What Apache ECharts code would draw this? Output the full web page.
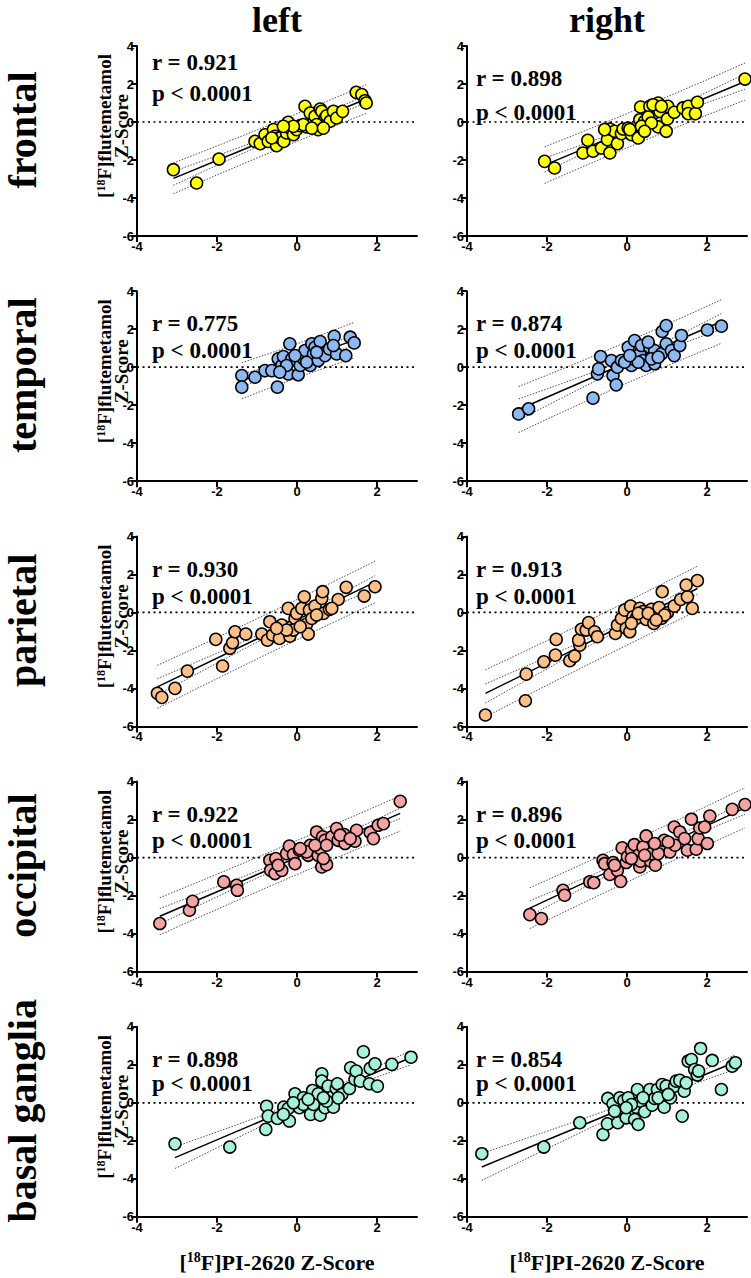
<!DOCTYPE html>
<html><head><meta charset="utf-8">
<script src="https://cdn.jsdelivr.net/npm/echarts@6/dist/echarts.min.js"></script>
<style>html,body{margin:0;padding:0;background:#fff}#c{width:751px;height:1278px}</style>
</head><body><div id="c"></div>
<script>
// ---------- data ----------
const regions = ['frontal', 'temporal', 'parietal', 'occipital', 'basal ganglia'];
const sides = ['left', 'right'];
const rValues = [['0.921', '0.898'], ['0.775', '0.874'], ['0.930', '0.913'], ['0.922', '0.896'], ['0.898', '0.854']];
const pText = 'p < 0.0001';
const xTicks = [-4, -2, 0, 2];
const yTicks = [-6, -4, -2, 0, 2, 4];
const regionColors = ['#ffff10', '#8cb9f2', '#fdc187', '#f5a3a3', '#a6f2d8'];
const showPrediction = [true, true, true, true, false];

const frontalLeft = [[-3.09,-2.51],[-2.51,-3.21],[-1.95,-1.95],[-1.05,-1.02],[-0.92,-1.14],[-0.8,-0.67],[-0.72,-1.02],[-0.59,-0.4],[-0.55,-0.75],[-0.51,-1.25],[-0.43,-0.84],[-0.33,-1.02],[-0.26,-0.58],[-0.22,-0.02],[-0.18,-0.32],[-0.09,-0.67],[-0.01,-0.4],[0.08,-0.19],[0.2,0.82],[0.24,-0.26],[0.33,0.47],[0.41,-0.05],[0.45,0.3],[0.53,-0.4],[0.58,0.68],[0.62,0.56],[0.7,0.21],[0.74,0.33],[0.83,0.04],[0.91,0.56],[0.99,0.21],[1.14,0.56],[1.48,1.56],[1.62,1.44],[1.7,1.12],[1.73,1.0],[0.16,-0.14],[-0.09,-0.23],[0.49,-0.14],[-0.63,-0.84],[-0.34,-0.23],[0.37,-0.32],[0.66,-0.32]];
const frontalRight = [[-2.06,-2.07],[-1.81,-2.42],[-1.1,-1.63],[-0.98,-0.96],[-0.85,-1.54],[-0.64,-1.37],[-0.49,-0.93],[-0.43,-1.63],[-0.43,-0.37],[-0.31,-0.49],[-0.24,-1.14],[-0.14,-0.61],[-0.1,-0.37],[0.03,-0.32],[0.11,-0.67],[0.28,-0.84],[0.32,0.12],[0.34,0.79],[0.4,-0.37],[0.44,0.04],[0.48,-0.14],[0.57,0.82],[0.53,0.26],[0.78,1.0],[0.78,-0.26],[0.82,0.56],[0.98,-0.49],[1.01,0.16],[1.02,0.82],[1.18,0.51],[1.4,0.74],[1.53,0.82],[1.53,0.44],[1.71,0.44],[1.76,1.04],[2.95,2.26],[0.07,-0.4],[0.36,-0.23],[0.61,-0.05],[0.65,0.91],[0.86,0.82],[-0.56,-0.4],[0.44,-0.49]];
const temporalLeft = [[-1.38,-0.44],[-1.38,-1.05],[-1.05,-0.53],[-0.8,-0.18],[-0.63,-0.18],[-0.49,-1.05],[-0.47,0.44],[-0.38,0.09],[-0.34,0.56],[-0.22,-0.35],[-0.18,1.23],[-0.13,0.44],[-0.01,0.35],[0.03,-0.4],[0.08,0.09],[0.16,0.44],[0.2,0.88],[0.33,0.09],[0.37,1.23],[0.41,0.7],[0.45,1.05],[0.53,0.35],[0.58,1.35],[0.7,0.61],[0.81,0.96],[0.93,1.63],[0.99,0.7],[1.22,0.61],[1.33,1.58],[1.43,1.28],[0.24,0.26],[-0.05,0.61],[-0.26,0.09],[0.49,0.79],[0.91,1.14],[-0.43,-0.26]];
const temporalRight = [[-2.71,-2.46],[-2.46,-2.19],[-0.85,-1.63],[-0.74,-0.35],[-0.71,-0.09],[-0.66,0.56],[-0.39,0.35],[-0.35,-0.44],[-0.27,-0.93],[-0.24,0.0],[-0.14,0.35],[0.03,1.05],[0.11,0.09],[0.15,0.44],[0.19,1.4],[0.32,0.7],[0.36,1.14],[0.4,0.35],[0.48,0.09],[0.57,1.05],[0.69,0.88],[0.69,0.18],[0.86,0.7],[0.88,1.88],[0.98,2.19],[0.98,1.23],[1.11,0.88],[1.18,0.61],[1.32,1.14],[1.36,1.67],[2.01,1.96],[2.36,2.16],[-0.06,0.26],[0.28,0.26],[0.61,0.44],[0.78,0.53],[0.53,1.32],[0.07,0.61]];
const parietalLeft = [[-3.49,-4.26],[-3.38,-4.47],[-3.05,-4.0],[-2.74,-3.09],[-2.03,-1.42],[-1.86,-2.82],[-1.68,-1.89],[-1.61,-1.6],[-1.55,-1.02],[-1.28,-1.14],[-0.88,-1.14],[-0.74,-1.46],[-0.68,-0.49],[-0.61,-1.19],[-0.44,-1.37],[-0.38,-0.67],[-0.22,0.21],[-0.18,-1.25],[-0.13,-0.75],[-0.05,-0.32],[-0.01,-0.05],[0.12,0.21],[0.18,0.82],[0.24,-0.61],[0.28,-1.14],[0.31,0.12],[0.37,-0.32],[0.45,0.33],[0.62,0.74],[0.64,1.09],[0.66,-0.05],[0.81,0.16],[1.03,0.68],[1.23,1.32],[1.68,0.86],[1.95,1.35],[-0.09,-0.93],[0.08,-0.75],[-0.26,-0.93],[0.49,-0.14],[0.87,0.21],[-0.51,-0.84]];
const parietalRight = [[-3.54,-5.4],[-2.54,-4.65],[-2.52,-3.25],[-2.08,-2.6],[-1.79,-2.25],[-1.77,-1.42],[-1.43,-2.54],[-1.31,-2.3],[-1.18,-1.72],[-1.21,-1.46],[-1.14,-0.89],[-1.02,-0.93],[-0.96,-0.54],[-0.81,-1.02],[-0.74,-1.28],[-0.29,-1.11],[-0.24,-0.67],[-0.14,-0.32],[-0.06,0.12],[-0.02,-0.84],[0.07,-1.02],[0.09,0.33],[0.15,-0.23],[0.23,-0.32],[0.32,0.21],[0.4,0.04],[0.48,-0.37],[0.61,0.16],[0.67,-0.58],[0.78,-0.19],[0.8,0.25],[0.86,-0.32],[0.88,1.09],[1.01,-0.02],[1.18,0.33],[1.34,0.68],[1.51,0.82],[1.48,1.44],[1.63,0.21],[1.76,1.67],[0.28,-0.05],[0.53,-0.05],[0.11,-0.58],[0.94,-0.14],[0.73,-0.4]];
const occipitalLeft = [[-3.43,-3.47],[-2.69,-2.77],[-2.61,-2.3],[-1.83,-1.28],[-1.51,-1.46],[-1.49,-1.72],[-0.68,-0.14],[-0.66,-0.67],[-0.55,-0.84],[-0.53,-0.05],[-0.38,-0.67],[-0.26,0.21],[-0.19,0.61],[-0.09,0.16],[-0.05,-0.32],[0.06,0.39],[0.28,0.12],[0.33,0.65],[0.41,0.39],[0.49,1.35],[0.53,0.12],[0.58,0.47],[0.62,-0.49],[0.64,1.09],[0.7,0.91],[0.74,-0.37],[0.87,1.09],[0.99,1.53],[1.03,0.91],[1.2,0.74],[1.18,1.21],[1.45,0.86],[1.49,1.44],[1.83,1.32],[1.91,1.0],[2.03,1.7],[2.16,1.79],[2.58,2.96],[0.24,0.3],[0.45,0.65],[0.08,0.47],[0.74,0.65],[1.08,1.18],[1.33,1.0],[-0.47,-0.4],[0.66,-0.05]];
const occipitalRight = [[-2.43,-3.0],[-2.14,-3.21],[-1.6,-1.72],[-1.56,-1.98],[-0.93,-1.28],[-0.83,-1.32],[-0.6,-0.14],[-0.56,-0.32],[-0.43,-0.89],[-0.35,-0.26],[-0.24,-0.67],[-0.16,-1.25],[-0.12,0.51],[-0.02,-0.26],[0.01,0.04],[0.11,0.39],[0.18,0.68],[0.28,0.12],[0.32,-0.49],[0.34,-0.19],[0.4,0.56],[0.48,1.14],[0.59,-0.19],[0.61,0.21],[0.71,-0.4],[0.82,0.47],[0.9,0.65],[0.93,0.91],[1.07,0.3],[1.18,1.61],[1.2,0.65],[1.32,1.35],[1.44,1.0],[1.51,0.39],[1.61,2.02],[1.73,0.44],[1.78,1.0],[1.82,1.56],[1.94,1.61],[2.01,0.74],[2.07,2.19],[2.63,2.54],[2.95,2.79],[0.11,-0.05],[0.44,0.12],[0.78,0.21],[1.03,0.82],[0.69,0.74],[-0.31,-0.4]];
const basalLeft = [[-3.05,-2.16],[-1.68,-2.33],[-0.78,-1.4],[-0.76,-0.18],[-0.72,-0.7],[-0.49,-0.82],[-0.33,-0.23],[-0.22,-0.3],[-0.19,-0.96],[-0.05,0.47],[0.06,-0.26],[0.16,0.26],[0.24,-0.18],[0.34,-0.61],[0.39,0.65],[0.49,0.0],[0.53,0.47],[0.58,-0.65],[0.62,1.53],[0.62,1.14],[0.7,-0.26],[0.78,0.88],[0.87,0.3],[0.91,-0.23],[0.98,0.75],[1.01,1.0],[1.12,0.44],[1.31,0.75],[1.34,1.84],[1.45,1.23],[1.48,1.67],[1.58,1.14],[1.66,2.68],[1.81,1.0],[1.83,1.81],[1.95,2.05],[2.01,0.88],[2.37,2.02],[2.85,2.4],[0.16,-0.09],[0.41,-0.09],[0.74,0.09],[-0.09,0.0],[0.28,0.18],[1.03,0.26],[0.66,0.26],[-0.34,-0.61]];
const basalRight = [[-3.63,-2.68],[-2.08,-2.33],[-1.18,-1.05],[-0.6,-1.67],[-0.49,-1.11],[-0.48,0.23],[-0.35,-0.05],[-0.23,-1.05],[-0.18,0.26],[-0.08,0.12],[-0.02,-0.79],[0.03,0.26],[0.19,-0.88],[0.23,-0.23],[0.26,0.7],[0.28,-1.14],[0.34,0.09],[0.44,-0.47],[0.57,0.7],[0.63,-0.12],[0.69,0.23],[0.76,0.7],[0.88,0.96],[0.93,-0.23],[0.98,0.88],[1.09,0.26],[1.19,0.88],[1.23,1.14],[1.32,1.18],[1.38,-0.7],[1.43,0.61],[1.48,1.05],[1.53,2.19],[1.61,2.28],[1.69,1.75],[1.76,1.46],[1.79,1.67],[1.84,2.86],[2.13,2.23],[2.36,0.7],[2.63,1.93],[2.71,2.11],[0.11,-0.09],[0.4,0.26],[0.78,0.26],[1.03,0.44],[-0.02,-0.26],[-0.31,-0.44]];

const panelData = [[frontalLeft, frontalRight], [temporalLeft, temporalRight], [parietalLeft, parietalRight], [occipitalLeft, occipitalRight], [basalLeft, basalRight]];

// ---------- layout ----------
const SERIF = '"Liberation Serif","Times New Roman",serif';
const NARROW = '"Liberation Sans Narrow","Liberation Sans",Arial,sans-serif';
const gridLeft = [137, 467];
const gridW = 280, gridH = 190;
const rowTop = [46, 291.2, 536.4, 781.6, 1026.8];
const statPos = [[[16, 47], [32, 66]], [[32, 59], [32, 59]], [[33, 60], [33, 60]], [[33, 59], [33, 59]], [[33, 57], [33, 57]]];
const statX = [152, 476];

// ---------- regression helpers (derived from the read data) ----------
function regress(pts) {
  const n = pts.length;
  let mx = 0, my = 0;
  pts.forEach(p => { mx += p[0]; my += p[1]; });
  mx /= n; my /= n;
  let sxx = 0, sxy = 0;
  pts.forEach(p => { sxx += (p[0] - mx) ** 2; sxy += (p[0] - mx) * (p[1] - my); });
  const b = sxy / sxx, a = my - b * mx;
  let sse = 0;
  pts.forEach(p => { sse += (p[1] - a - b * p[0]) ** 2; });
  const s = Math.sqrt(sse / (n - 2));
  const t = 1.96 + 2.5 / (n - 2);
  const xs = pts.map(p => p[0]);
  return { n, mx, sxx, a, b, s, t, xmin: Math.min(...xs), xmax: Math.max(...xs) };
}
function bandLine(r, sign, pred) {
  const out = [];
  const N = 40;
  for (let k = 0; k <= N; k++) {
    const x = r.xmin + (r.xmax - r.xmin) * k / N;
    const se = r.s * Math.sqrt((pred ? 1 : 0) + 1 / r.n + (x - r.mx) ** 2 / r.sxx);
    out.push([x, r.a + r.b * x + sign * r.t * se]);
  }
  return out;
}

function txt(x, y, text, font, extra) {
  return Object.assign({ type: 'text', x: x, y: y, z: 10, style: { text: text, font: font, fill: '#000', align: 'center', verticalAlign: 'middle', textAlign: 'center', textVerticalAlign: 'middle' } }, extra || {});
}
function leftTxt(x, y, text, font) {
  return { type: 'text', x: x, y: y, z: 10, style: { text: text, font: font, fill: '#000', align: 'left', verticalAlign: 'middle', textAlign: 'left', textVerticalAlign: 'middle' } };
}

const grids = [], xAxes = [], yAxes = [], series = [], graphics = [];
for (let row = 0; row < 5; row++) {
  for (let col = 0; col < 2; col++) {
    const i = row * 2 + col;
    grids.push({ left: gridLeft[col], top: rowTop[row], width: gridW, height: gridH, show: false });
    xAxes.push({
      gridIndex: i, type: 'value', min: -4, max: 3, interval: 2, position: 'bottom',
      axisLine: { show: true, onZero: false, lineStyle: { color: '#000', width: 2 } },
      axisTick: { show: true, length: 6, customValues: xTicks, lineStyle: { color: '#000', width: 2 } },
      axisLabel: { customValues: xTicks, color: '#000', fontWeight: 'bold', fontFamily: NARROW, fontSize: 13, margin: 4 },
      splitLine: { show: false }
    });
    yAxes.push({
      gridIndex: i, type: 'value', min: -6, max: 4, interval: 2,
      axisLine: { show: true, onZero: false, lineStyle: { color: '#000', width: 2 } },
      axisTick: { show: true, length: 6, lineStyle: { color: '#000', width: 2 } },
      axisLabel: { color: '#000', fontWeight: 'bold', fontFamily: NARROW, fontSize: 13, margin: 3 },
      splitLine: { show: false }
    });
    const pts = panelData[row][col];
    const r = regress(pts);
    const common = { xAxisIndex: i, yAxisIndex: i, type: 'line', symbol: 'none', silent: true, animation: false };
    series.push(Object.assign({}, common, { data: [[-4, 0], [3, 0]], z: 1, lineStyle: { color: '#000', width: 1.7, type: [2, 3.5] } }));
    const bands = [[1, false], [-1, false]];
    if (showPrediction[row]) bands.push([1, true], [-1, true]);
    bands.forEach(([sg, pr]) => {
      series.push(Object.assign({}, common, { data: bandLine(r, sg, pr), z: 2, lineStyle: { color: '#222', width: 0.8, type: [1.5, 1.5] } }));
    });
    series.push(Object.assign({}, common, { data: [[r.xmin, r.a + r.b * r.xmin], [r.xmax, r.a + r.b * r.xmax]], z: 3, lineStyle: { color: '#000', width: 1.5 } }));
    series.push({
      type: 'scatter', xAxisIndex: i, yAxisIndex: i, data: pts, symbol: 'circle', symbolSize: 12, z: 5,
      silent: true, animation: false,
      itemStyle: { color: regionColors[row], borderColor: '#000', borderWidth: 1.5, opacity: 1 }
    });
    const top = rowTop[row];
    graphics.push(leftTxt(statX[col], top + statPos[row][col][0], 'r = ' + rValues[row][col], 'bold 23px ' + SERIF));
    graphics.push(leftTxt(statX[col], top + statPos[row][col][1], pText, 'bold 23px ' + SERIF));
  }
  // row label
  graphics.push(txt(22, rowTop[row] + 84, regions[row], 'bold 40px ' + SERIF, { rotation: Math.PI / 2 }));
  // y-axis title (two lines)
  graphics.push({ type: 'text', x: 104, y: rowTop[row] + 80, rotation: Math.PI / 2, z: 10, style: {
    text: '{n|[}{s|18}{n|F]flutemetamol}', align: 'center', verticalAlign: 'middle', textAlign: 'center', textVerticalAlign: 'middle', fill: '#000',
    rich: { n: { fontFamily: SERIF, fontWeight: 'bold', fontSize: 19, lineHeight: 19, fill: '#000', color: '#000' }, s: { fontFamily: SERIF, fontWeight: 'bold', fontSize: 12, verticalAlign: 'top', lineHeight: 12, fill: '#000', color: '#000' } }
  } });
  graphics.push(txt(121, rowTop[row] + 80, 'Z-Score', 'bold 19px ' + SERIF, { rotation: Math.PI / 2 }));
}
for (let col = 0; col < 2; col++) {
  const cx = gridLeft[col] + gridW / 2;
  graphics.push(txt(cx, 20, sides[col], 'bold 36px ' + SERIF));
  graphics.push({ type: 'text', x: cx, y: 1262, z: 10, style: {
    text: '{n|[}{s|18}{n|F]PI-2620 Z-Score}', align: 'center', verticalAlign: 'middle', textAlign: 'center', textVerticalAlign: 'middle', fill: '#000',
    rich: { n: { fontFamily: SERIF, fontWeight: 'bold', fontSize: 22, lineHeight: 24, fill: '#000', color: '#000' }, s: { fontFamily: SERIF, fontWeight: 'bold', fontSize: 14, verticalAlign: 'top', lineHeight: 14, fill: '#000', color: '#000' } }
  } });
}

const chart = echarts.init(document.getElementById('c'), null, { renderer: 'svg', width: 751, height: 1278 });
chart.setOption({
  animation: false,
  backgroundColor: '#fff',
  grid: grids, xAxis: xAxes, yAxis: yAxes, series: series,
  graphic: { elements: graphics }
});
</script></body></html>
